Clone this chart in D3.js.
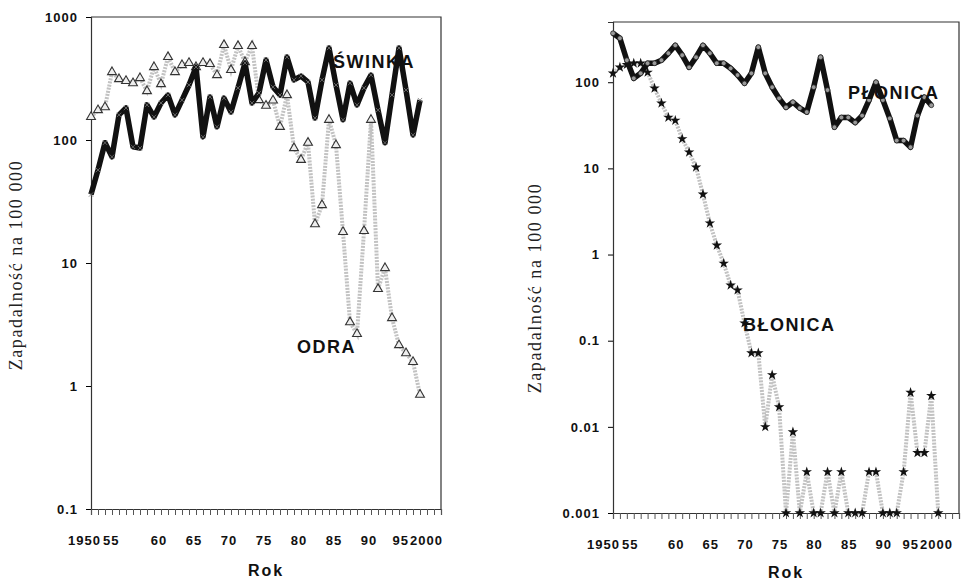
<!DOCTYPE html>
<html>
<head>
<meta charset="utf-8">
<script src="https://cdn.jsdelivr.net/npm/d3@7"></script>
<style>
  body { margin: 0; background: #fff; }
  .tick text { font-family: "Liberation Sans", Arial, sans-serif; font-weight: bold; font-size: 13px; letter-spacing: 1px; fill: #111; }
</style>
</head>
<body>
<div id="chart"></div>
<script>
// ---- data ----
const yearsLeft = d3.range(1950, 1998);      // 1950-1997
const swinka = [36, 57, 95, 73, 160, 182, 88, 86, 193, 154, 200, 232, 160, 211, 280, 392,
  106, 224, 128, 219, 169, 265, 423, 200, 241, 447, 270, 232, 473, 308, 331, 296,
  151, 308, 560, 280, 146, 290, 193, 265, 337, 175, 95, 232, 560, 255, 110, 211];
const odra = [154, 175, 185, 357, 313, 302, 290, 319, 250, 392, 285, 473, 357, 407, 423, 392,
  423, 415, 337, 592, 371, 581, 430, 581, 211, 190, 210, 128, 232, 86, 69, 95,
  20.7, 29.6, 146, 91, 17.9, 3.3, 2.65, 18.2, 146, 6.15, 9.1, 3.57, 2.15, 1.85, 1.57, 0.85];

const yearsPlonica = d3.range(1950, 1997);   // 1950-1996
const plonica = [370, 324, 180, 111, 127, 166, 166, 180, 217, 268, 206, 149, 195, 268, 217, 166,
  166, 145, 121, 97, 127, 255, 127, 87.5, 65, 51, 58.6, 50, 45, 87.5, 195, 81,
  30, 39, 39, 34, 41, 62, 100, 62, 38, 21, 21, 17.6, 41, 67, 54];
const yearsBlonica = d3.range(1950, 1998);   // 1950-1997
const blonica = [127, 149, 160, 166, 166, 130, 85, 57, 39, 36, 22, 15.4, 10.3, 5.0, 2.31, 1.28,
  0.79, 0.44, 0.386, 0.16, 0.072, 0.072, 0.01, 0.04, 0.017, 0.001, 0.0087, 0.001, 0.003, 0.001, 0.001, 0.003,
  0.001, 0.003, 0.001, 0.001, 0.001, 0.003, 0.003, 0.001, 0.001, 0.001, 0.003, 0.025, 0.005, 0.005, 0.023, 0.001];

const xTickYears = [1950, 1955, 1960, 1965, 1970, 1975, 1980, 1985, 1990, 1995, 2000];
const xTickLabels = ["1950", "55", "60", "65", "70", "75", "80", "85", "90", "95", "2000"];
const leftYTicks = [0.1, 1, 10, 100, 1000];
const leftYLabels = ["0.1", "1", "10", "100", "1000"];
const rightYTicks = [0.001, 0.01, 0.1, 1, 10, 100];
const rightYLabels = ["0.001", "0.01", "0.1", "1", "10", "100"];

const sans = '"Liberation Sans", Arial, sans-serif';
const serif = '"Liberation Serif", "Times New Roman", serif';

const svg = d3.select("#chart").append("svg")
  .attr("width", 978)
  .attr("height", 583);

function drawPanel(p) {
  const x = d3.scaleLinear().domain([1950, 2000]).range([p.left, p.right]);
  const y = d3.scaleLog().domain(p.yDomain).range([p.bottom, p.top]);
  const g = svg.append("g");

  // frame (top + right)
  g.append("path")
    .attr("d", `M${p.left},${p.top}H${p.right}V${p.bottom}`)
    .attr("fill", "none").attr("stroke", "#333").attr("stroke-width", 1.2);

  // y axis
  const ya = g.append("g")
    .attr("transform", `translate(${p.left},0)`)
    .call(d3.axisLeft(y).tickValues(p.yTicks)
      .tickFormat((d, i) => p.yLabels[i]).tickSize(5).tickPadding(8));
  ya.select(".domain").attr("stroke", "#333").attr("stroke-width", 1.2);

  // x axis, a tick every year
  const xa = g.append("g")
    .attr("transform", `translate(0,${p.bottom})`)
    .call(d3.axisBottom(x).tickValues(d3.range(1950, 2001)).tickFormat("").tickSize(6));
  xa.select(".domain").attr("stroke", "#333").attr("stroke-width", 1.2);
  xa.selectAll(".tick line").attr("stroke", "#555");

  // x tick labels (the first two and last two are crowded together)
  g.selectAll(".xlab").data(xTickYears).enter().append("text")
    .attr("x", (d, i) => {
      if (i === 0) return x(1950) + p.lab1950;
      if (i === 1) return x(1950) + p.lab1950 + 2;
      if (i === 9) return x(2000) + p.lab2000 - 1;
      if (i === 10) return x(2000) + p.lab2000;
      return x(d) + p.labShift;
    })
    .attr("y", p.bottom + 36)
    .attr("text-anchor", (d, i) => i === 0 || i === 9 ? "end" : (i === 1 || i === 10 ? "start" : "middle"))
    .attr("font-family", sans).attr("font-weight", "bold").attr("font-size", 13)
    .attr("letter-spacing", 1).attr("fill", "#111")
    .text((d, i) => xTickLabels[i]);

  // axis titles
  g.append("text")
    .attr("x", (p.left + p.right) / 2).attr("y", p.rokY)
    .attr("text-anchor", "middle")
    .attr("font-family", sans).attr("font-weight", "bold").attr("font-size", 16)
    .attr("letter-spacing", 2).attr("fill", "#111")
    .text("Rok");

  g.append("text")
    .attr("transform", `translate(${p.titleX},${p.titleY}) rotate(-90)`)
    .attr("text-anchor", "middle")
    .attr("font-family", serif).attr("font-size", 18)
    .attr("letter-spacing", 1.6).attr("fill", "#222")
    .text("Zapadalność na 100 000");

  return { g, x, y };
}

function grayLine(g, x, y, years, vals) {
  g.append("path")
    .datum(vals)
    .attr("d", d3.line().x((d, i) => x(years[i])).y(d => y(d)))
    .attr("fill", "none").attr("stroke", "#c2c2c2").attr("stroke-width", 4)
    .attr("stroke-dasharray", "2,1.2");
}

function blackLine(g, x, y, years, vals) {
  g.append("path")
    .datum(vals)
    .attr("d", d3.line().x((d, i) => x(years[i])).y(d => y(d)))
    .attr("fill", "none").attr("stroke", "#111").attr("stroke-width", 5.5)
    .attr("stroke-linejoin", "round");
}

// ---- left panel: ODRA + ŚWINKA ----
const L = drawPanel({
  left: 91, right: 441, top: 17, bottom: 509,
  yDomain: [0.1, 1000], yTicks: leftYTicks, yLabels: leftYLabels,
  lab1950: 10, lab2000: -31, labShift: -2,
  titleX: 22, titleY: 265, rokY: 576
});

grayLine(L.g, L.x, L.y, yearsLeft, odra);
L.g.selectAll(".tri").data(odra).enter().append("path")
  .attr("transform", (d, i) => `translate(${L.x(yearsLeft[i])},${L.y(d)})`)
  .attr("d", d3.symbol(d3.symbolTriangle, 34))
  .attr("fill", "#eee").attr("stroke", "#333").attr("stroke-width", 1.1);

blackLine(L.g, L.x, L.y, yearsLeft, swinka);
L.g.selectAll(".crs").data(swinka).enter().append("path")
  .attr("transform", (d, i) => `translate(${L.x(yearsLeft[i])},${L.y(d)})`)
  .attr("d", d3.symbol(d3.symbolTimes, 14))
  .attr("fill", "none").attr("stroke", "#777").attr("stroke-width", 0.8);

L.g.append("text").attr("x", 333).attr("y", 68)
  .attr("font-family", sans).attr("font-weight", "bold").attr("font-size", 18)
  .attr("letter-spacing", 1.5).attr("fill", "#111").text("ŚWINKA");
L.g.append("text").attr("x", 297).attr("y", 353)
  .attr("font-family", sans).attr("font-weight", "bold").attr("font-size", 18)
  .attr("letter-spacing", 1.5).attr("fill", "#111").text("ODRA");

// ---- right panel: BŁONICA + PŁONICA ----
const R = drawPanel({
  left: 613, right: 959, top: 22, bottom: 513,
  yDomain: [0.001, 500], yTicks: rightYTicks, yLabels: rightYLabels,
  lab1950: 7, lab2000: -39, labShift: -6,
  titleX: 541, titleY: 288, rokY: 578
});

grayLine(R.g, R.x, R.y, yearsBlonica, blonica);
R.g.selectAll(".star").data(blonica).enter().append("path")
  .attr("transform", (d, i) => `translate(${R.x(yearsBlonica[i])},${R.y(d)})`)
  .attr("d", d3.symbol(d3.symbolStar, 34))
  .attr("fill", "#111");

blackLine(R.g, R.x, R.y, yearsPlonica, plonica);
R.g.selectAll(".dot").data(plonica).enter().append("circle")
  .attr("cx", (d, i) => R.x(yearsPlonica[i]))
  .attr("cy", d => R.y(d))
  .attr("r", 2.4)
  .attr("fill", "#9a9a9a").attr("stroke", "#222").attr("stroke-width", 0.8);

R.g.append("text").attr("x", 848).attr("y", 99)
  .attr("font-family", sans).attr("font-weight", "bold").attr("font-size", 18)
  .attr("letter-spacing", 1.5).attr("fill", "#111").text("PŁONICA");
R.g.append("text").attr("x", 743).attr("y", 331)
  .attr("font-family", sans).attr("font-weight", "bold").attr("font-size", 18)
  .attr("letter-spacing", 1.5).attr("fill", "#111").text("BŁONICA");
</script>
</body>
</html>
